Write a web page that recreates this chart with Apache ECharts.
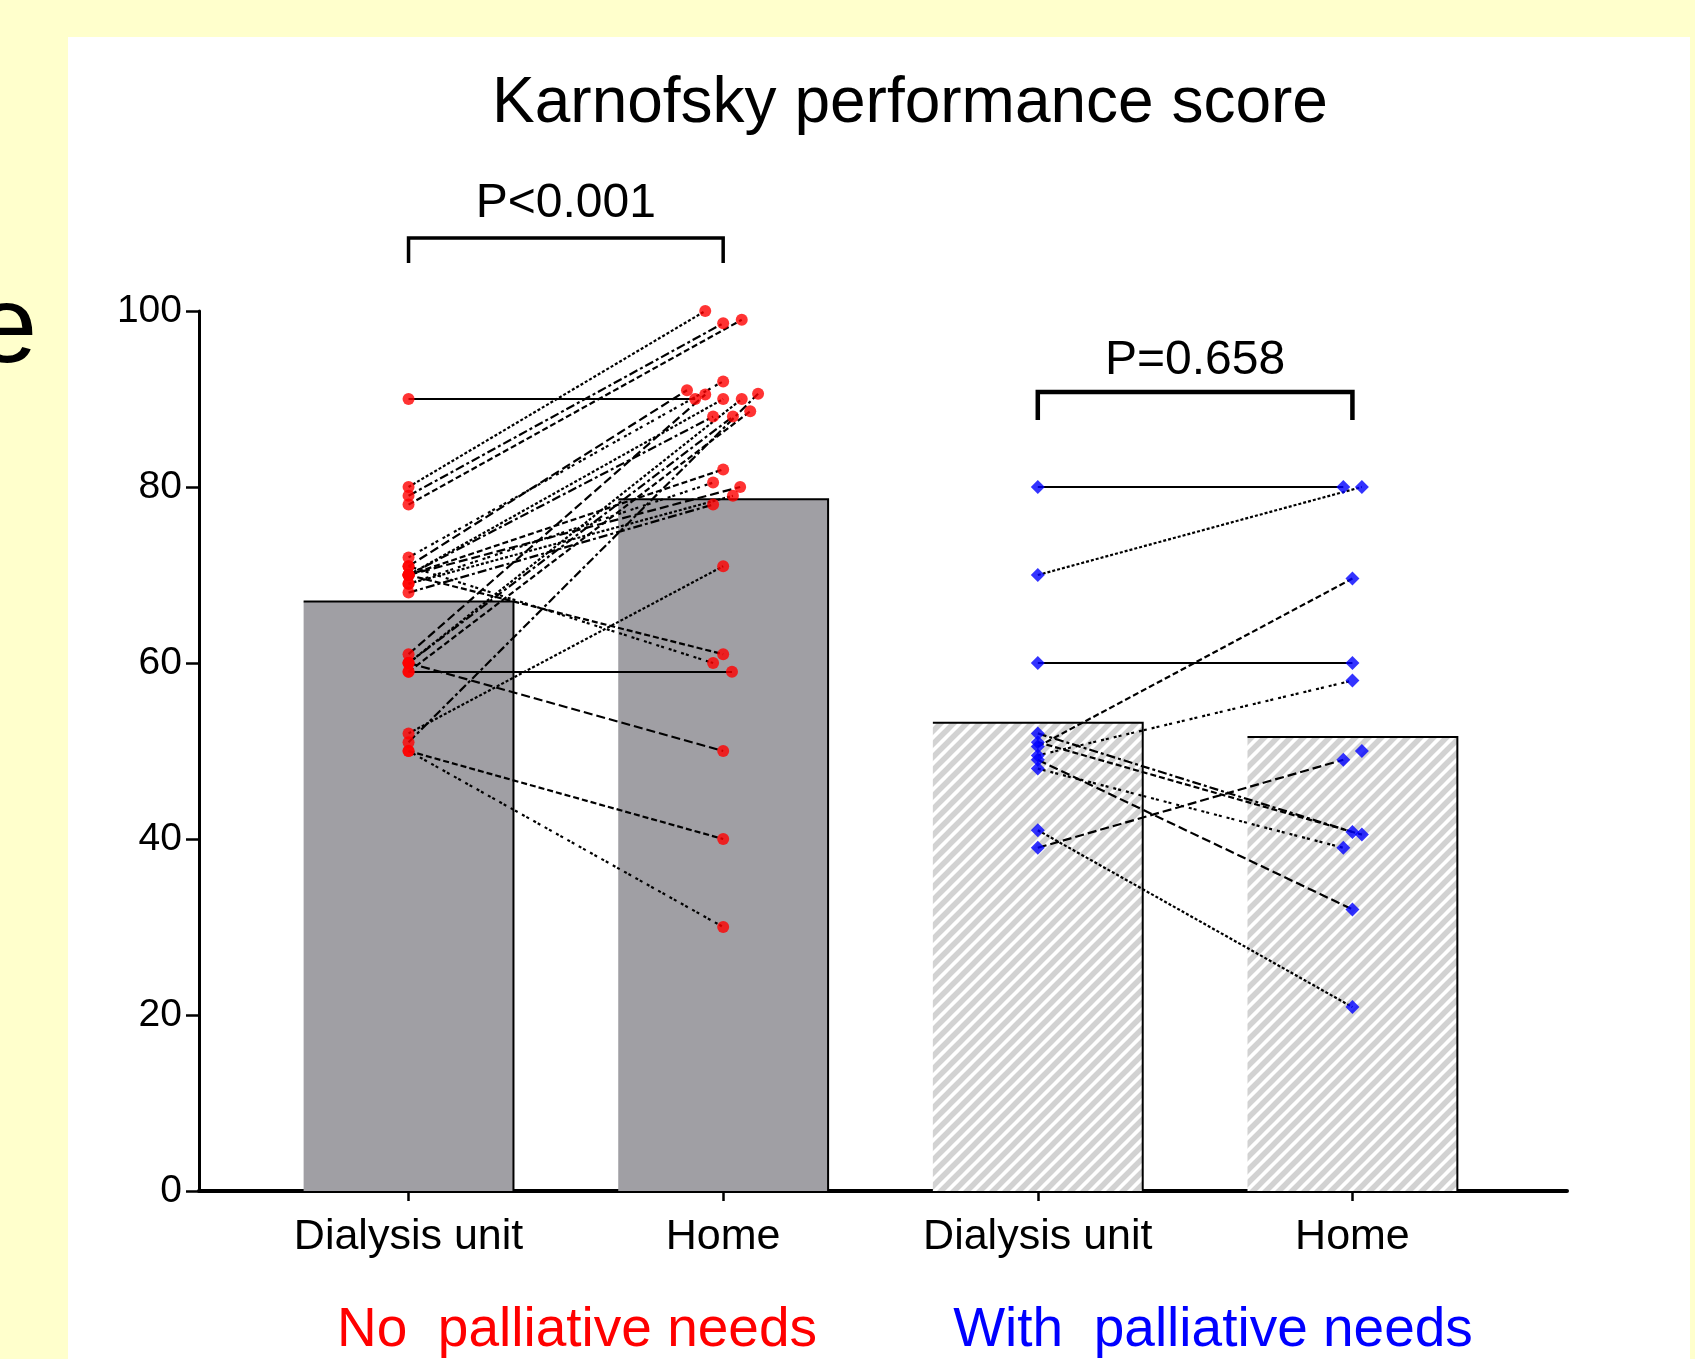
<!DOCTYPE html>
<html><head><meta charset="utf-8">
<script src="https://cdn.jsdelivr.net/npm/echarts@6/dist/echarts.min.js"></script>
<style>html,body{margin:0;padding:0;background:#FFFFCC;}#c{width:1695px;height:1359px;}</style>
</head><body><div id="c"></div>
<script>
// ---------- data ----------
const categories = ['Dialysis unit', 'Home', 'Dialysis unit', 'Home'];
const groupLabels = ['No  palliative needs', 'With  palliative needs'];
const chartTitle = 'Karnofsky performance score';
const pValues = ['P<0.001', 'P=0.658'];
const yTicks = [0, 20, 40, 60, 80, 100];
const barMeans = [67.0, 78.6, 53.2, 51.6];

// No palliative needs: paired values (dialysis unit -> home)
const noPallDialysis = [90, 80, 79, 78, 72, 71, 70, 70, 70, 69, 70, 69, 68, 70, 71, 61, 60, 60, 59, 59, 60, 52, 51, 50, 50];
const noPallHome     = [90, 100, 98.6, 99, 92, 91, 90, 88, 82, 80.5, 80, 79, 78, 61, 60, 90.5, 90, 88, 88.6, 59, 50, 71, 90.6, 40, 30];
const noPallHomeJitter = [-0.089, -0.057, 0, 0.059, 0, -0.115, 0, -0.032, 0, -0.032, 0.054, 0.031, -0.032, 0, -0.032, -0.057, 0.059, 0.031, 0.086, 0.028, 0, 0, 0.111, 0, 0];

// With palliative needs
const withPallDialysis = [80, 70, 60, 50.5, 49.5, 39, 41, 52, 51, 48, 49];
const withPallHome     = [80, 80, 60, 69.6, 58, 49, 20.9, 40.8, 40.5, 39, 32];
const withPallHomeJitter = [-0.029, 0.03, 0, 0, 0, -0.029, 0, 0, 0.03, -0.029, 0];
const withPallHomeUnpaired = [50];
const withPallHomeUnpairedJitter = [0.03];

// ---------- helpers ----------
const FONT = "'Liberation Sans', Arial, sans-serif";
const dashes = [[9, 4], [3, 2], [9, 3, 3, 3], [6, 3], [3, 2, 3, 5]];

function hatchPattern() {
  const s = 13;
  const c = document.createElement('canvas');
  c.width = s; c.height = s;
  const g = c.getContext('2d');
  g.fillStyle = '#ffffff'; g.fillRect(0, 0, s, s);
  g.strokeStyle = '#d2d2d2'; g.lineWidth = 5.5;
  g.beginPath();
  g.moveTo(-s, s); g.lineTo(s, -s);
  g.moveTo(0, 2 * s); g.lineTo(2 * s, 0);
  g.moveTo(0, s); g.lineTo(s, 0);
  g.stroke();
  return c;
}
const hatch = { image: hatchPattern(), repeat: 'repeat' };

function buildPairs(dia, home, jit, x0, x1) {
  const lines = [], pts = [];
  dia.forEach((d, i) => {
    const hx = x1 + jit[i];
    lines.push({
      coords: [[x0, d], [hx, home[i]]],
      lineStyle: { type: d === home[i] ? 'solid' : dashes[i % dashes.length] }
    });
    pts.push([x0, d]);
    pts.push([hx, home[i]]);
  });
  return { lines, pts };
}
const g1 = buildPairs(noPallDialysis, noPallHome, noPallHomeJitter, 0, 1);
const g2 = buildPairs(withPallDialysis, withPallHome, withPallHomeJitter, 2, 3);
withPallHomeUnpaired.forEach((v, i) => g2.pts.push([3 + withPallHomeUnpairedJitter[i], v]));

const chart = echarts.init(document.getElementById('c'), null, { renderer: 'canvas' });

const option = {
  backgroundColor: '#FFFFCC',
  animation: false,
  grid: { left: 199, right: 128, top: 311, bottom: 168, containLabel: false, outerBoundsMode: 'none' },
  xAxis: {
    type: 'value', min: -0.666, max: 3.682,
    splitLine: { show: false },
    axisLine: { show: true, onZero: false, lineStyle: { color: '#000', width: 4 } },
    axisTick: { show: true, customValues: [0, 1, 2, 3], length: 10, lineStyle: { color: '#000', width: 2.5 } },
    axisLabel: {
      customValues: [0, 1, 2, 3], margin: 25,
      formatter: v => categories[Math.round(v)],
      color: '#000', fontSize: 43, fontFamily: FONT
    }
  },
  yAxis: {
    type: 'value', min: yTicks[0], max: yTicks[yTicks.length - 1], interval: yTicks[1] - yTicks[0],
    splitLine: { show: false },
    axisLine: { show: true, onZero: false, lineStyle: { color: '#000', width: 3 } },
    axisTick: { show: true, length: 13, lineStyle: { color: '#000', width: 2.5 } },
    axisLabel: { margin: 17, color: '#000', fontSize: 39, fontFamily: FONT }
  },
  series: [
    {
      type: 'custom', z: 1,
      data: barMeans.map((v, i) => [i, v, i >= 2 ? 1 : 0]),
      renderItem: function (params, api) {
        const x = api.value(0), v = api.value(1), hatched = api.value(2) === 1;
        const top = api.coord([x, v]);
        const base = api.coord([x, 0]);
        const w = api.size([1, 0])[0] * 0.667;
        const l = top[0] - w / 2, r = top[0] + w / 2;
        return {
          type: 'group',
          children: [
            { type: 'rect', shape: { x: l, y: top[1], width: w, height: base[1] - top[1] },
              style: { fill: hatched ? hatch : '#A09FA4' } },
            { type: 'polyline', shape: { points: [[l, top[1]], [r, top[1]], [r, base[1]]] },
              style: { stroke: '#000', lineWidth: 2, fill: null } }
          ]
        };
      }
    },
    {
      type: 'lines', coordinateSystem: 'cartesian2d', z: 3, silent: true,
      lineStyle: { color: '#000', width: 2.2, opacity: 1 },
      data: g1.lines.concat(g2.lines)
    },
    {
      type: 'scatter', z: 4, symbol: 'circle', symbolSize: 12,
      itemStyle: { color: '#FF0000' }, data: g1.pts
    },
    {
      type: 'scatter', z: 4, symbol: 'diamond', symbolSize: 14,
      itemStyle: { color: '#0000FF' }, data: g2.pts
    }
  ]
};
chart.setOption(option);

// annotations (brackets, p-values, titles)
const P = (x, y) => chart.convertToPixel({ gridIndex: 0 }, [x, y]);
const brackets = [
  { from: 0, to: 1, y: 108.3, drop: 2.85, textY: 112.2, text: pValues[0], width: 3.5 },
  { from: 2, to: 3, y: 90.8, drop: 3.2, textY: 94.4, text: pValues[1], width: 4.5 }
];
const graphics = [
  { type: 'rect', z: -10, shape: { x: 68, y: 37, width: 1622, height: 1340 }, style: { fill: '#ffffff' } },
  { type: 'text', z: 10, x: -24, y: 332, style: { text: 'e', fill: '#000', font: '110px ' + FONT, textAlign: 'left', textVerticalAlign: 'middle' } },
  { type: 'text', z: 10, x: 910, y: 104, style: { text: chartTitle, fill: '#000', font: '64px ' + FONT, textAlign: 'center', textVerticalAlign: 'middle' } },
  { type: 'text', z: 10, x: 577, y: 1331, style: { text: groupLabels[0], fill: '#FF0000', font: '55px ' + FONT, textAlign: 'center', textVerticalAlign: 'middle' } },
  { type: 'text', z: 10, x: 1213, y: 1331, style: { text: groupLabels[1], fill: '#0000FF', font: '55px ' + FONT, textAlign: 'center', textVerticalAlign: 'middle' } }
];
brackets.forEach(b => {
  const a = P(b.from, b.y), c = P(b.to, b.y);
  const a2 = P(b.from, b.y - b.drop), c2 = P(b.to, b.y - b.drop);
  graphics.push({ type: 'polyline', z: 10, shape: { points: [a2, a, c, c2] },
    style: { stroke: '#000', lineWidth: b.width, fill: null } });
  const t = P((b.from + b.to) / 2, b.textY);
  graphics.push({ type: 'text', z: 10, x: t[0], y: t[1],
    style: { text: b.text, fill: '#000', font: '48px ' + FONT, textAlign: 'center', textVerticalAlign: 'middle' } });
});
chart.setOption({ graphic: graphics });
</script>
</body></html>
